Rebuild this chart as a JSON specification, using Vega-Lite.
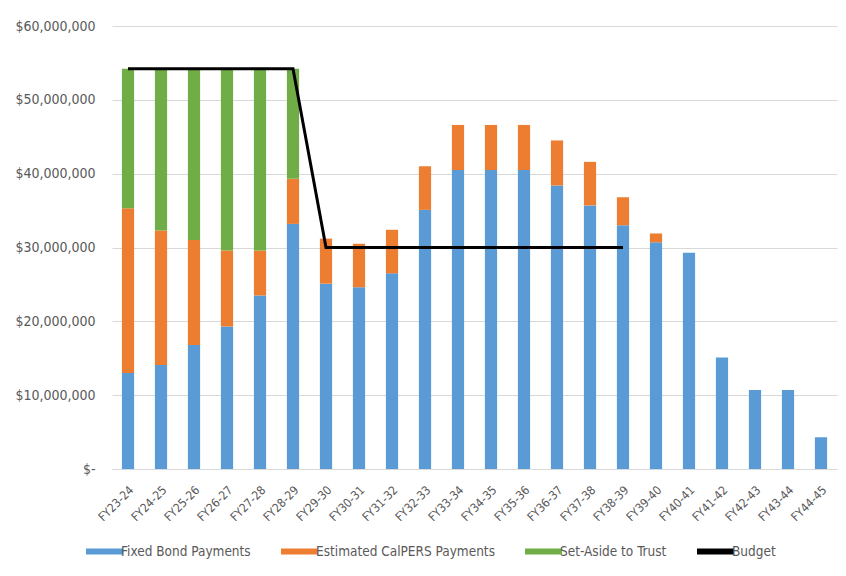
{
  "$schema": "https://vega.github.io/schema/vega-lite/v6.json",
  "autosize": {"type": "none"},
  "width": 725,
  "height": 443,
  "padding": {"left": 112, "top": 26, "right": 9, "bottom": 107},
  "background": "white",
  "config": {
    "font": "Liberation Sans Narrow, DejaVu Sans Condensed, Lato",
    "view": {"stroke": null},
    "axis": {"labelColor": "#595959", "labelFont": "Liberation Sans Narrow, DejaVu Sans Condensed, Lato"},
    "legend": {"labelColor": "#595959", "labelFont": "Liberation Sans Narrow, DejaVu Sans Condensed, Lato"}
  },
  "datasets": {
    "bars": [
      {"fy": "FY23-24", "series": "Fixed Bond Payments", "ord": 1, "value": 13000000},
      {"fy": "FY23-24", "series": "Estimated CalPERS Payments", "ord": 2, "value": 22300000},
      {"fy": "FY23-24", "series": "Set-Aside to Trust", "ord": 3, "value": 18900000},
      {"fy": "FY24-25", "series": "Fixed Bond Payments", "ord": 1, "value": 14100000},
      {"fy": "FY24-25", "series": "Estimated CalPERS Payments", "ord": 2, "value": 18200000},
      {"fy": "FY24-25", "series": "Set-Aside to Trust", "ord": 3, "value": 21900000},
      {"fy": "FY25-26", "series": "Fixed Bond Payments", "ord": 1, "value": 16800000},
      {"fy": "FY25-26", "series": "Estimated CalPERS Payments", "ord": 2, "value": 14200000},
      {"fy": "FY25-26", "series": "Set-Aside to Trust", "ord": 3, "value": 23200000},
      {"fy": "FY26-27", "series": "Fixed Bond Payments", "ord": 1, "value": 19300000},
      {"fy": "FY26-27", "series": "Estimated CalPERS Payments", "ord": 2, "value": 10300000},
      {"fy": "FY26-27", "series": "Set-Aside to Trust", "ord": 3, "value": 24600000},
      {"fy": "FY27-28", "series": "Fixed Bond Payments", "ord": 1, "value": 23500000},
      {"fy": "FY27-28", "series": "Estimated CalPERS Payments", "ord": 2, "value": 6100000},
      {"fy": "FY27-28", "series": "Set-Aside to Trust", "ord": 3, "value": 24600000},
      {"fy": "FY28-29", "series": "Fixed Bond Payments", "ord": 1, "value": 33200000},
      {"fy": "FY28-29", "series": "Estimated CalPERS Payments", "ord": 2, "value": 6100000},
      {"fy": "FY28-29", "series": "Set-Aside to Trust", "ord": 3, "value": 14900000},
      {"fy": "FY29-30", "series": "Fixed Bond Payments", "ord": 1, "value": 25100000},
      {"fy": "FY29-30", "series": "Estimated CalPERS Payments", "ord": 2, "value": 6100000},
      {"fy": "FY30-31", "series": "Fixed Bond Payments", "ord": 1, "value": 24600000},
      {"fy": "FY30-31", "series": "Estimated CalPERS Payments", "ord": 2, "value": 5900000},
      {"fy": "FY31-32", "series": "Fixed Bond Payments", "ord": 1, "value": 26500000},
      {"fy": "FY31-32", "series": "Estimated CalPERS Payments", "ord": 2, "value": 5900000},
      {"fy": "FY32-33", "series": "Fixed Bond Payments", "ord": 1, "value": 35100000},
      {"fy": "FY32-33", "series": "Estimated CalPERS Payments", "ord": 2, "value": 5900000},
      {"fy": "FY33-34", "series": "Fixed Bond Payments", "ord": 1, "value": 40500000},
      {"fy": "FY33-34", "series": "Estimated CalPERS Payments", "ord": 2, "value": 6100000},
      {"fy": "FY34-35", "series": "Fixed Bond Payments", "ord": 1, "value": 40500000},
      {"fy": "FY34-35", "series": "Estimated CalPERS Payments", "ord": 2, "value": 6100000},
      {"fy": "FY35-36", "series": "Fixed Bond Payments", "ord": 1, "value": 40500000},
      {"fy": "FY35-36", "series": "Estimated CalPERS Payments", "ord": 2, "value": 6100000},
      {"fy": "FY36-37", "series": "Fixed Bond Payments", "ord": 1, "value": 38400000},
      {"fy": "FY36-37", "series": "Estimated CalPERS Payments", "ord": 2, "value": 6100000},
      {"fy": "FY37-38", "series": "Fixed Bond Payments", "ord": 1, "value": 35700000},
      {"fy": "FY37-38", "series": "Estimated CalPERS Payments", "ord": 2, "value": 5900000},
      {"fy": "FY38-39", "series": "Fixed Bond Payments", "ord": 1, "value": 33000000},
      {"fy": "FY38-39", "series": "Estimated CalPERS Payments", "ord": 2, "value": 3800000},
      {"fy": "FY39-40", "series": "Fixed Bond Payments", "ord": 1, "value": 30700000},
      {"fy": "FY39-40", "series": "Estimated CalPERS Payments", "ord": 2, "value": 1200000},
      {"fy": "FY40-41", "series": "Fixed Bond Payments", "ord": 1, "value": 29300000},
      {"fy": "FY41-42", "series": "Fixed Bond Payments", "ord": 1, "value": 15100000},
      {"fy": "FY42-43", "series": "Fixed Bond Payments", "ord": 1, "value": 10700000},
      {"fy": "FY43-44", "series": "Fixed Bond Payments", "ord": 1, "value": 10700000},
      {"fy": "FY44-45", "series": "Fixed Bond Payments", "ord": 1, "value": 4300000}
    ],
    "budget": [
      {"fy": "FY23-24", "series": "Budget", "value": 54200000},
      {"fy": "FY24-25", "series": "Budget", "value": 54200000},
      {"fy": "FY25-26", "series": "Budget", "value": 54200000},
      {"fy": "FY26-27", "series": "Budget", "value": 54200000},
      {"fy": "FY27-28", "series": "Budget", "value": 54200000},
      {"fy": "FY28-29", "series": "Budget", "value": 54200000},
      {"fy": "FY29-30", "series": "Budget", "value": 30000000},
      {"fy": "FY30-31", "series": "Budget", "value": 30000000},
      {"fy": "FY31-32", "series": "Budget", "value": 30000000},
      {"fy": "FY32-33", "series": "Budget", "value": 30000000},
      {"fy": "FY33-34", "series": "Budget", "value": 30000000},
      {"fy": "FY34-35", "series": "Budget", "value": 30000000},
      {"fy": "FY35-36", "series": "Budget", "value": 30000000},
      {"fy": "FY36-37", "series": "Budget", "value": 30000000},
      {"fy": "FY37-38", "series": "Budget", "value": 30000000},
      {"fy": "FY38-39", "series": "Budget", "value": 30000000}
    ]
  },
  "encoding": {
    "x": {
      "field": "fy", "type": "nominal", "sort": null, "title": null,
      "scale": {"paddingInner": 0.63, "paddingOuter": 0.3},
      "axis": {"labelAngle": -45, "labelFontSize": 12, "ticks": false, "domainColor": "#D9D9D9", "labelPadding": 15}
    },
    "y": {
      "field": "value", "type": "quantitative", "title": null,
      "scale": {"domain": [0, 60000000]},
      "axis": {
        "values": [0, 10000000, 20000000, 30000000, 40000000, 50000000, 60000000],
        "labelExpr": "datum.value == 0 ? '$-' : '$' + format(datum.value, ',')",
        "labelFontSize": 14, "domain": false, "ticks": false, "gridColor": "#D9D9D9", "labelPadding": 17
      }
    }
  },
  "layer": [
    {
      "data": {"name": "bars"},
      "mark": {"type": "bar"},
      "encoding": {
        "y": {"field": "value", "type": "quantitative", "stack": "zero"},
        "order": {"field": "ord", "type": "quantitative"},
        "color": {
          "field": "series", "type": "nominal",
          "scale": {
            "domain": ["Fixed Bond Payments", "Estimated CalPERS Payments", "Set-Aside to Trust", "Budget"],
            "range": ["#5B9BD5", "#ED7D31", "#70AD47", "#000000"]
          },
          "legend": {
            "title": null, "orient": "none", "direction": "horizontal",
            "legendX": -20, "legendY": 513,
            "symbolType": "M-1.5,-0.25H1.5V0.25H-1.5Z", "symbolSize": 608,
            "symbolStrokeWidth": 0, "labelFontSize": 13.5, "columnPadding": 30, "labelOffset": 4,
            "labelLimit": 400
          }
        }
      }
    },
    {
      "data": {"name": "budget"},
      "mark": {"type": "line", "strokeWidth": 3},
      "encoding": {
        "color": {"field": "series", "type": "nominal"}
      }
    }
  ]
}
